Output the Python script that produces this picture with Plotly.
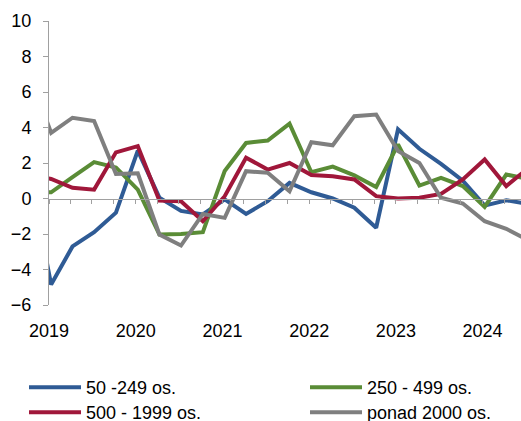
import pandas as pd
import plotly.graph_objects as go

quarters = ["2018Q4",
            "2019Q1", "2019Q2", "2019Q3", "2019Q4",
            "2020Q1", "2020Q2", "2020Q3", "2020Q4",
            "2021Q1", "2021Q2", "2021Q3", "2021Q4",
            "2022Q1", "2022Q2", "2022Q3", "2022Q4",
            "2023Q1", "2023Q2", "2023Q3", "2023Q4",
            "2024Q1", "2024Q2", "2024Q3"]

s_50_249 = [1.5, -4.85, -2.7, -1.9, -0.8, 2.7, 0.05, -0.7, -0.9, -0.05, -0.87, -0.15, 0.88,
            0.35, 0.0, -0.52, -1.65, 3.9, 2.8, 1.95, 1.0, -0.4, -0.1, -0.3]
s_250_499 = [0.4, 0.35, 1.2, 2.05, 1.75, 0.5, -2.03, -2.0, -1.9, 1.55, 3.13, 3.27, 4.22,
             1.48, 1.8, 1.3, 0.65, 3.04, 0.73, 1.16, 0.7, -0.47, 1.35, 1.1]
s_500_1999 = [1.4, 1.1, 0.6, 0.5, 2.6, 2.95, -0.12, -0.15, -1.28, 0.13, 2.3, 1.63, 2.0,
              1.32, 1.25, 1.07, 0.13, 0.0, 0.04, 0.26, 1.07, 2.2, 0.7, 1.7]
s_2000 = [7.0, 3.7, 4.55, 4.36, 1.38, 1.42, -2.03, -2.65, -0.87, -1.09, 1.54, 1.45, 0.41,
          3.17, 3.0, 4.64, 4.73, 2.67, 2.0, 0.04, -0.28, -1.28, -1.71, -2.35]

names = ["50 -249 os.", "250 - 499 os.", "500 - 1999 os.", "ponad 2000 os."]
colors = ["#2F5B95", "#5A8C36", "#A0173A", "#7F7F7F"]
legend_ids = ["legend", "legend2", "legend3", "legend4"]
year_ticks = ["2019", "2020", "2021", "2022", "2023", "2024"]

x = pd.PeriodIndex(quarters, freq="Q").start_time + pd.Timedelta(days=9)

fig = go.Figure()
for name, vals, col, lg in zip(names, [s_50_249, s_250_499, s_500_1999, s_2000], colors, legend_ids):
    fig.add_trace(go.Scatter(x=x, y=vals, mode="lines", name=name, legend=lg,
                             line=dict(color=col, width=4)))
# helper trace so the zero-line axis is drawn
fig.add_trace(go.Scatter(x=[x[1]], y=[None], xaxis="x2", showlegend=False,
                         hoverinfo="skip", mode="lines"))

font = "Liberation Sans, Arial, sans-serif"
xr = ["2019-01-01", "2024-06-11"]
W, H = 521, 421
leg_common = dict(orientation="h", xref="container", yref="container",
                  xanchor="left", yanchor="top", itemwidth=52,
                  font=dict(size=18, color="black"), tracegroupgap=0,
                  bgcolor="rgba(0,0,0,0)", borderwidth=0)
col_x = [24 / W, 305 / W]
row_y = [1 - 369 / H, 1 - 394 / H]
fig.update_layout(
    width=W, height=H,
    margin=dict(l=49, r=0, t=21, b=116),
    plot_bgcolor="white", paper_bgcolor="white",
    font=dict(family=font, size=18, color="black"),
    showlegend=True,
    xaxis=dict(type="date", range=xr, tickvals=[f"{y}-01-01" for y in year_ticks],
               ticktext=year_ticks, ticks="", showline=False, showgrid=False,
               zeroline=False, ticklabelstandoff=13, automargin=False,
               tickfont=dict(size=18, color="black")),
    xaxis2=dict(type="date", range=xr, overlaying="x", anchor="free", position=0.375,
                matches="x", ticks="outside", ticklen=4, tickcolor="#A0A0A0",
                dtick="M3", tick0="2019-01-01", showticklabels=False, showline=True,
                linecolor="#A0A0A0", linewidth=1, showgrid=False, zeroline=False,
                automargin=False),
    yaxis=dict(range=[-6, 10], dtick=2, ticks="outside", ticklen=5, tickcolor="#A0A0A0",
               showline=True, linecolor="#A0A0A0", linewidth=1, showgrid=False,
               zeroline=False, automargin=False, ticklabelstandoff=8,
               tickfont=dict(size=18, color="black")),
    legend=dict(x=col_x[0], y=row_y[0], **leg_common),
    legend2=dict(x=col_x[1], y=row_y[0], **leg_common),
    legend3=dict(x=col_x[0], y=row_y[1], **leg_common),
    legend4=dict(x=col_x[1], y=row_y[1], **leg_common),
)
fig.write_html("out.html", config={"displayModeBar": False},
               post_script="document.body.style.margin='0';document.body.style.overflow='hidden';")
